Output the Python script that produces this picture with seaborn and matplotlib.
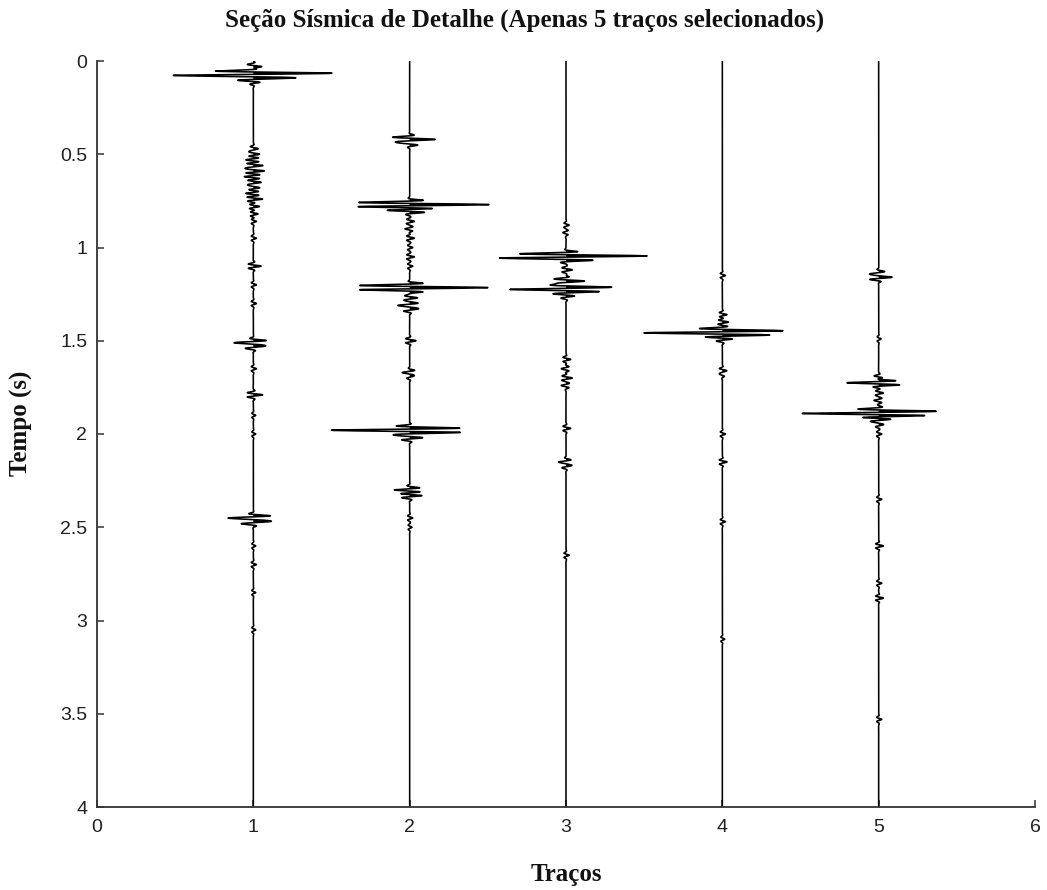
import numpy as np
import matplotlib
matplotlib.use("Agg")
import matplotlib.pyplot as plt
import seaborn as sns

# ---- data: reflection events (time in s, amplitude in trace units)
TRACE_POS = [1, 2, 3, 4, 5]

T1_TIME = [0.030, 0.065, 0.0775, 0.095, 0.112,
           0.47, 0.50, 0.53, 0.56, 0.59, 0.62, 0.65, 0.68, 0.71, 0.74, 0.78, 0.82, 0.86,
           0.95, 1.10, 1.20, 1.30, 1.51, 1.53, 1.65, 1.79, 1.90, 2.00,
           2.45, 2.47, 2.60, 2.70, 2.85, 3.05]
T1_AMP = [0.06, 0.31, -0.31, 0.10, 0.04,
          0.03, 0.04, -0.05, 0.06, 0.07, -0.06, 0.05, 0.04, -0.05, 0.06, 0.04, 0.03, 0.02,
          0.02, 0.05, 0.02, 0.02, -0.13, 0.08, 0.02, 0.06, 0.015, 0.015,
          -0.17, 0.12, 0.015, 0.02, 0.015, 0.015]

T2_TIME = [0.42, 0.44, 0.77, 0.80, 0.86, 0.90, 0.95, 1.00, 1.05, 1.10,
           1.215, 1.27, 1.31, 1.33, 1.50, 1.67, 1.69, 1.98, 2.02,
           2.30, 2.33, 2.45, 2.50]
T2_AMP = [0.17, -0.08, 0.51, -0.15, 0.03, -0.03, 0.03, 0.02, 0.03, 0.02,
          0.50, 0.05, -0.08, 0.06, 0.04, -0.05, 0.03, -0.50, 0.08,
          -0.10, 0.08, 0.02, 0.015]

T3_TIME = [0.88, 0.92, 1.045, 1.0575, 1.12, 1.18, 1.2125, 1.225, 1.26,
           1.60, 1.65, 1.70, 1.74, 1.97, 2.15, 2.17, 2.65]
T3_AMP = [0.02, -0.02, 0.42, -0.16, 0.04, 0.12, 0.11, -0.29, 0.05,
          0.03, -0.03, 0.04, -0.03, 0.03, -0.05, 0.04, 0.02]

T4_TIME = [1.15, 1.36, 1.40, 1.4455, 1.458, 1.49, 1.66, 1.68, 2.00, 2.15, 2.47, 3.10]
T4_AMP = [0.02, 0.03, 0.04, 0.115, -0.43, 0.06, 0.03, -0.02, 0.02, 0.03, 0.02, 0.015]

T5_TIME = [1.14, 1.16, 1.49, 1.70, 1.725, 1.78, 1.82, 1.8775, 1.89,
           1.92, 1.95, 2.00, 2.35, 2.60, 2.80, 2.88, 3.53]
T5_AMP = [-0.06, 0.09, 0.015, 0.05, -0.21, 0.03, -0.03, 0.094, -0.432,
          0.08, 0.03, 0.02, 0.02, 0.03, 0.02, 0.03, 0.02]

TRACE_TIMES = [T1_TIME, T2_TIME, T3_TIME, T4_TIME, T5_TIME]
TRACE_AMPS = [T1_AMP, T2_AMP, T3_AMP, T4_AMP, T5_AMP]

X_TICKS = [0, 1, 2, 3, 4, 5, 6]
Y_TICKS = [0, 0.5, 1, 1.5, 2, 2.5, 3, 3.5, 4]
Y_TICKLABELS = ["0", "0.5", "1", "1.5", "2", "2.5", "3", "3.5", "4"]

TITLE = "Seção Sísmica de Detalhe (Apenas 5 traços selecionados)"
XLABEL = "Traços"
YLABEL = "Tempo (s)"

# wavelet parameters (rendering)
FREQ = 40.0
SIGMA = 0.018

sns.set_theme(style="ticks")
plt.rcParams['font.family'] = ['Liberation Sans', 'DejaVu Sans']

W, H = 1047, 890
fig = plt.figure(figsize=(W / 100, H / 100), dpi=100)
ax = fig.add_axes([97 / W, 1 - 807 / H, 938 / W, 746 / H])

t = np.arange(0.0, 4.0 + 1e-9, 0.001)


def wavelet(tau):
    return np.exp(-(tau / SIGMA) ** 2) * np.cos(2 * np.pi * FREQ * tau)


for pos, times, amps in zip(TRACE_POS, TRACE_TIMES, TRACE_AMPS):
    tr = np.zeros_like(t)
    for t0, a in zip(times, amps):
        tr += a * wavelet(t - t0)
    x = pos + tr
    ax.fill_betweenx(t, pos, x, where=tr > 0.003, color='black', lw=0, interpolate=True)
    sns.lineplot(x=x, y=t, orient='y', sort=False, estimator=None,
                 color='black', lw=1.15, ax=ax)

ax.set_xlim(0, 6)
ax.set_ylim(4, 0)
ax.set_xticks(X_TICKS)
ax.set_xticklabels([str(v) for v in X_TICKS])
ax.set_yticks(Y_TICKS)
ax.set_yticklabels(Y_TICKLABELS)
sns.despine(ax=ax)
for side in ['left', 'bottom']:
    ax.spines[side].set_color('#333333')
    ax.spines[side].set_linewidth(1.3)
ax.tick_params(direction='in', length=5, width=1.1, color='#333333',
               labelsize=14, labelcolor='#202020')
ax.tick_params(axis='x', pad=9)
ax.tick_params(axis='y', pad=7)

serif = ['Liberation Serif', 'DejaVu Serif']
fig.text(566 / W, 1 - 875 / H, XLABEL, ha='center', va='center',
         fontfamily=serif, fontweight='bold', fontsize=18, color='#111111')
fig.text(21 / W, 1 - 423 / H, YLABEL, ha='center', va='center', rotation=90,
         fontfamily=serif, fontweight='bold', fontsize=18, color='#111111')
fig.text(525 / W, 1 - 20 / H, TITLE, ha='center', va='center',
         fontfamily=serif, fontweight='bold', fontsize=18, color='#111111')

fig.savefig("out.png", dpi=100, facecolor='white')
